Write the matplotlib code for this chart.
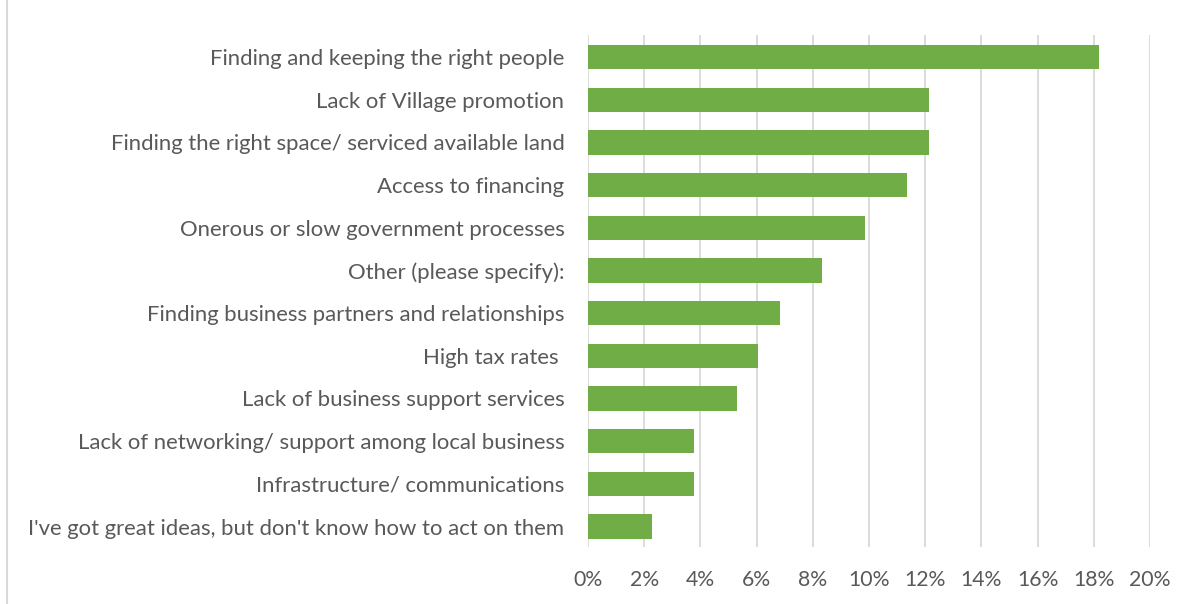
import matplotlib
matplotlib.use("Agg")
import matplotlib.pyplot as plt
from matplotlib.lines import Line2D

categories = [
    "Finding and keeping the right people",
    "Lack of Village promotion",
    "Finding the right space/ serviced available land",
    "Access to financing",
    "Onerous or slow government processes",
    "Other (please specify):",
    "Finding business partners and relationships",
    "High tax rates ",
    "Lack of business support services",
    "Lack of networking/ support among local business",
    "Infrastructure/ communications",
    "I've got great ideas, but don't know how to act on them",
]
values = [18.18, 12.12, 12.12, 11.36, 9.85, 8.33, 6.82, 6.06, 5.30, 3.79, 3.79, 2.27]
xticks = [0, 2, 4, 6, 8, 10, 12, 14, 16, 18, 20]
xticklabels = [f"{t}%" for t in xticks]

plt.rcParams['font.family'] = ['Lato', 'DejaVu Sans']
W, H = 1191, 604
fig = plt.figure(figsize=(W / 100, H / 100), dpi=100)
ax = fig.add_axes([588 / W, 1 - 547.3 / H, (1150 - 588) / W, (547.3 - 35) / H])

n = len(categories)
ypos = list(range(n))
ax.barh(ypos, values, height=0.57, color="#70ad47", zorder=3)
ax.set_ylim(n - 1 + 0.487, -0.515)
ax.set_xlim(0, 20)
ax.set_xticks(xticks)
ax.set_xticklabels(xticklabels)
ax.set_yticks(ypos)
ax.set_yticklabels(categories)
ax.tick_params(axis='both', length=0, colors="#595959")
ax.tick_params(axis='x', labelsize=15.3, pad=16)
ax.tick_params(axis='y', labelsize=15.9, pad=17)
ax.grid(axis='x', color="#d9d9d9", linewidth=1.3, zorder=0)
for s in ax.spines.values():
    s.set_visible(False)

fig.add_artist(Line2D([7 / W, 7 / W], [0, 1], color="#d9d9d9", linewidth=1.5, transform=fig.transFigure))

fig.savefig("out.png", dpi=100, facecolor="white")
